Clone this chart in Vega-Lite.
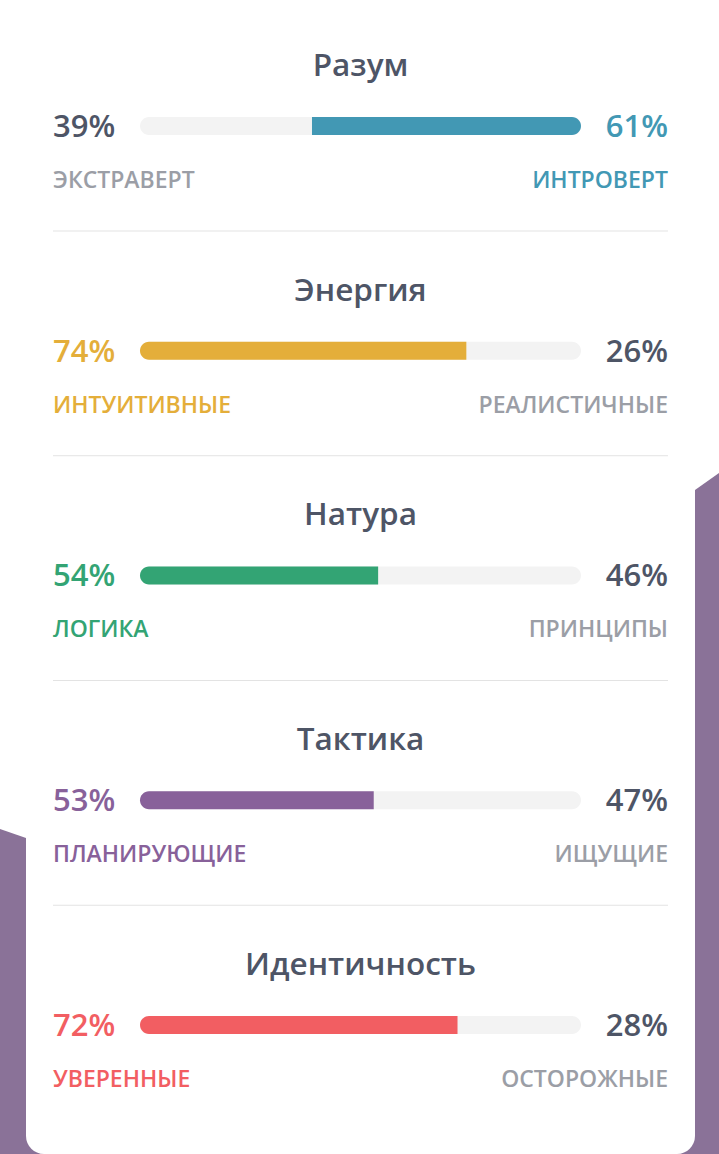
{
  "$schema": "https://vega.github.io/schema/vega-lite/v6.json",
  "width": 719,
  "height": 1154,
  "autosize": {"type": "fit", "contains": "padding"},
  "padding": 0,
  "background": "#ffffff",
  "config": {"view": {"stroke": null}, "text": {"font": "Open Sans"}},
  "datasets": {
    "traits": [
      {"row": 0, "title": "Разум", "leftPct": 39, "rightPct": 61, "leftText": "39%", "rightText": "61%", "leftLabel": "ЭКСТРАВЕРТ", "rightLabel": "ИНТРОВЕРТ", "side": "right"},
      {"row": 1, "title": "Энергия", "leftPct": 74, "rightPct": 26, "leftText": "74%", "rightText": "26%", "leftLabel": "ИНТУИТИВНЫЕ", "rightLabel": "РЕАЛИСТИЧНЫЕ", "side": "left"},
      {"row": 2, "title": "Натура", "leftPct": 54, "rightPct": 46, "leftText": "54%", "rightText": "46%", "leftLabel": "ЛОГИКА", "rightLabel": "ПРИНЦИПЫ", "side": "left"},
      {"row": 3, "title": "Тактика", "leftPct": 53, "rightPct": 47, "leftText": "53%", "rightText": "47%", "leftLabel": "ПЛАНИРУЮЩИЕ", "rightLabel": "ИЩУЩИЕ", "side": "left"},
      {"row": 4, "title": "Идентичность", "leftPct": 72, "rightPct": 28, "leftText": "72%", "rightText": "28%", "leftLabel": "УВЕРЕННЫЕ", "rightLabel": "ОСТОРОЖНЫЕ", "side": "left"}
    ],
    "backdrop": [
      {"shape": "left", "x": -31.746, "y": 3.1279, "y2": 4.574},
      {"shape": "left", "x": -18.14, "y": 3.2205, "y2": 4.574},
      {"shape": "right", "x": 117.91, "y": 1.7299, "y2": 4.574},
      {"shape": "right", "x": 131.293, "y": 1.5439, "y2": 4.574}
    ],
    "card": [
      {"x": -25.85, "x2": 125.85, "y": -0.5606, "y2": 4.574}
    ]
  },
  "layer": [
    {
      "data": {"name": "backdrop"},
      "transform": [{"filter": "datum.shape === 'left'"}],
      "mark": {"type": "area", "color": "#8a7298"},
      "encoding": {
        "x": {"field": "x", "type": "quantitative", "scale": {"domain": [-31.746, 131.293], "nice": false, "zero": false}, "axis": null},
        "y": {"field": "y", "type": "quantitative", "scale": {"domain": [-0.5606, 4.574], "nice": false, "zero": false, "reverse": true}, "axis": null, "stack": null},
        "y2": {"field": "y2"}
      }
    },
    {
      "data": {"name": "backdrop"},
      "transform": [{"filter": "datum.shape === 'right'"}],
      "mark": {"type": "area", "color": "#8a7298"},
      "encoding": {
        "x": {"field": "x", "type": "quantitative", "axis": null},
        "y": {"field": "y", "type": "quantitative", "axis": null, "stack": null},
        "y2": {"field": "y2"}
      }
    },
    {
      "data": {"name": "card"},
      "mark": {"type": "rect", "color": "#ffffff", "cornerRadiusBottomLeft": 18, "cornerRadiusBottomRight": 18},
      "encoding": {
        "x": {"field": "x", "type": "quantitative", "axis": null},
        "x2": {"field": "x2"},
        "y": {"field": "y", "type": "quantitative", "axis": null},
        "y2": {"field": "y2"}
      }
    },
    {
      "data": {"name": "traits"},
      "transform": [{"filter": "datum.row < 4"}],
      "mark": {"type": "rule", "color": "#e3e3e3", "strokeWidth": 1, "yOffset": 105},
      "encoding": {
        "x": {"datum": -19.728, "type": "quantitative", "axis": null},
        "x2": {"datum": 119.728},
        "y": {"field": "row", "type": "quantitative", "axis": null}
      }
    },
    {
      "data": {"name": "traits"},
      "mark": {"type": "rect", "color": "#f3f3f3", "cornerRadius": 9, "yOffset": -9, "y2Offset": 9},
      "encoding": {
        "x": {"datum": 0, "type": "quantitative", "axis": null},
        "x2": {"datum": 100},
        "y": {"field": "row", "type": "quantitative", "axis": null},
        "y2": {"field": "row"}
      }
    },
    {
      "data": {"name": "traits"},
      "transform": [{"filter": "datum.side === 'left'"}],
      "mark": {"type": "rect", "cornerRadiusTopLeft": 9, "cornerRadiusBottomLeft": 9, "yOffset": -9, "y2Offset": 9},
      "encoding": {
        "x": {"field": "leftPct", "type": "quantitative", "axis": null},
        "x2": {"datum": 0},
        "y": {"field": "row", "type": "quantitative", "axis": null},
        "y2": {"field": "row"},
        "color": {"field": "title", "type": "nominal", "scale": {"domain": ["Разум", "Энергия", "Натура", "Тактика", "Идентичность"], "range": ["#4298b4", "#e4ae3a", "#33a474", "#88619a", "#f25e62"]}, "legend": null}
      }
    },
    {
      "data": {"name": "traits"},
      "transform": [{"filter": "datum.side === 'right'"}],
      "mark": {"type": "rect", "cornerRadiusTopRight": 9, "cornerRadiusBottomRight": 9, "yOffset": -9, "y2Offset": 9},
      "encoding": {
        "x": {"field": "leftPct", "type": "quantitative", "axis": null},
        "x2": {"datum": 100},
        "y": {"field": "row", "type": "quantitative", "axis": null},
        "y2": {"field": "row"},
        "color": {"field": "title", "type": "nominal", "legend": null}
      }
    },
    {
      "data": {"name": "traits"},
      "mark": {"type": "text", "align": "center", "baseline": "alphabetic", "dy": -50, "fontSize": 31.5, "fontWeight": 600, "color": "#4e5566"},
      "encoding": {
        "x": {"datum": 50, "type": "quantitative", "axis": null},
        "y": {"field": "row", "type": "quantitative", "axis": null},
        "text": {"field": "title", "type": "nominal"}
      }
    },
    {
      "data": {"name": "traits"},
      "transform": [{"filter": "datum.side === 'left'"}],
      "mark": {"type": "text", "align": "left", "baseline": "alphabetic", "dy": 11, "fontSize": 31, "fontWeight": 600},
      "encoding": {
        "x": {"datum": -19.728, "type": "quantitative", "axis": null},
        "y": {"field": "row", "type": "quantitative", "axis": null},
        "text": {"field": "leftText", "type": "nominal"},
        "color": {"field": "title", "type": "nominal", "legend": null}
      }
    },
    {
      "data": {"name": "traits"},
      "transform": [{"filter": "datum.side === 'right'"}],
      "mark": {"type": "text", "align": "left", "baseline": "alphabetic", "dy": 11, "fontSize": 31, "fontWeight": 600, "color": "#4e5566"},
      "encoding": {
        "x": {"datum": -19.728, "type": "quantitative", "axis": null},
        "y": {"field": "row", "type": "quantitative", "axis": null},
        "text": {"field": "leftText", "type": "nominal"}
      }
    },
    {
      "data": {"name": "traits"},
      "transform": [{"filter": "datum.side === 'right'"}],
      "mark": {"type": "text", "align": "right", "baseline": "alphabetic", "dy": 11, "fontSize": 31, "fontWeight": 600},
      "encoding": {
        "x": {"datum": 119.728, "type": "quantitative", "axis": null},
        "y": {"field": "row", "type": "quantitative", "axis": null},
        "text": {"field": "rightText", "type": "nominal"},
        "color": {"field": "title", "type": "nominal", "legend": null}
      }
    },
    {
      "data": {"name": "traits"},
      "transform": [{"filter": "datum.side === 'left'"}],
      "mark": {"type": "text", "align": "right", "baseline": "alphabetic", "dy": 11, "fontSize": 31, "fontWeight": 600, "color": "#4e5566"},
      "encoding": {
        "x": {"datum": 119.728, "type": "quantitative", "axis": null},
        "y": {"field": "row", "type": "quantitative", "axis": null},
        "text": {"field": "rightText", "type": "nominal"}
      }
    },
    {
      "data": {"name": "traits"},
      "transform": [{"filter": "datum.side === 'left'"}],
      "mark": {"type": "text", "align": "left", "baseline": "alphabetic", "dy": 62, "fontSize": 23, "fontWeight": 600},
      "encoding": {
        "x": {"datum": -19.728, "type": "quantitative", "axis": null},
        "y": {"field": "row", "type": "quantitative", "axis": null},
        "text": {"field": "leftLabel", "type": "nominal"},
        "color": {"field": "title", "type": "nominal", "legend": null}
      }
    },
    {
      "data": {"name": "traits"},
      "transform": [{"filter": "datum.side === 'right'"}],
      "mark": {"type": "text", "align": "left", "baseline": "alphabetic", "dy": 62, "fontSize": 23, "fontWeight": 600, "color": "#9b9ea6"},
      "encoding": {
        "x": {"datum": -19.728, "type": "quantitative", "axis": null},
        "y": {"field": "row", "type": "quantitative", "axis": null},
        "text": {"field": "leftLabel", "type": "nominal"}
      }
    },
    {
      "data": {"name": "traits"},
      "transform": [{"filter": "datum.side === 'right'"}],
      "mark": {"type": "text", "align": "right", "baseline": "alphabetic", "dy": 62, "fontSize": 23, "fontWeight": 600},
      "encoding": {
        "x": {"datum": 119.728, "type": "quantitative", "axis": null},
        "y": {"field": "row", "type": "quantitative", "axis": null},
        "text": {"field": "rightLabel", "type": "nominal"},
        "color": {"field": "title", "type": "nominal", "legend": null}
      }
    },
    {
      "data": {"name": "traits"},
      "transform": [{"filter": "datum.side === 'left'"}],
      "mark": {"type": "text", "align": "right", "baseline": "alphabetic", "dy": 62, "fontSize": 23, "fontWeight": 600, "color": "#9b9ea6"},
      "encoding": {
        "x": {"datum": 119.728, "type": "quantitative", "axis": null},
        "y": {"field": "row", "type": "quantitative", "axis": null},
        "text": {"field": "rightLabel", "type": "nominal"}
      }
    }
  ]
}
